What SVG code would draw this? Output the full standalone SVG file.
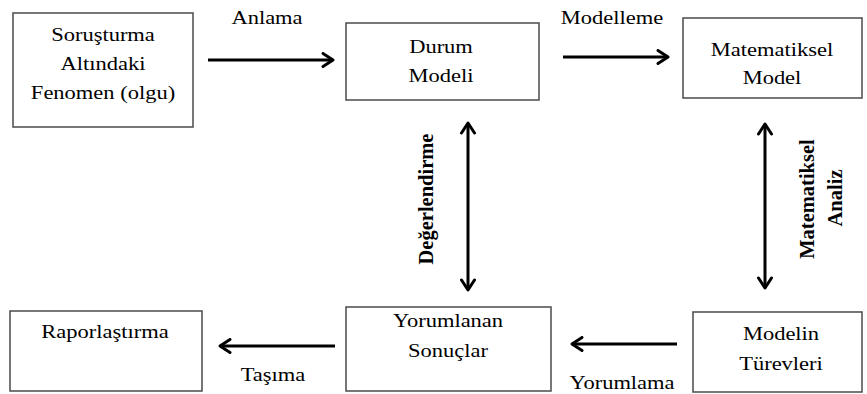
<svg xmlns="http://www.w3.org/2000/svg" width="867" height="394" viewBox="0 0 867 394" font-family="Liberation Serif">
<style>
.box{fill:#fff;stroke:#555;stroke-width:1.6}
.t{font-size:18px;fill:#000;text-anchor:middle}
.v{font-size:20.5px;font-weight:bold;fill:#000;text-anchor:middle}
.ar{stroke:#000;stroke-width:3;fill:none}
</style>
<defs>
<marker id="ah" viewBox="0 0 14 16" refX="12" refY="8" markerWidth="14" markerHeight="16" markerUnits="userSpaceOnUse" orient="auto-start-reverse">
<path d="M2,1.5 L12,8 L2,14.5" fill="none" stroke="#000" stroke-width="3" stroke-linecap="round" stroke-linejoin="round"/>
</marker>
</defs>
<rect width="867" height="394" fill="#fff"/>
<g id="n1"><rect class="box" x="13" y="13" width="180" height="114"/>
<text class="t" font-family="Liberation Serif" transform="translate(103,41) scale(1.25,1)">Soruşturma</text>
<text class="t" font-family="Liberation Serif" transform="translate(103,70) scale(1.25,1)">Altındaki</text>
<text class="t" font-family="Liberation Serif" transform="translate(103,99) scale(1.25,1)">Fenomen (olgu)</text></g>
<g id="n2"><rect class="box" x="346" y="23" width="193" height="77"/>
<text class="t" font-family="Liberation Serif" transform="translate(441,53) scale(1.25,1)">Durum</text>
<text class="t" font-family="Liberation Serif" transform="translate(441,82) scale(1.25,1)">Modeli</text></g>
<g id="n3"><rect class="box" x="683" y="18" width="179" height="80"/>
<text class="t" font-family="Liberation Serif" transform="translate(772,56) scale(1.25,1)">Matematiksel</text>
<text class="t" font-family="Liberation Serif" transform="translate(772,84) scale(1.25,1)">Model</text></g>
<g id="n4"><rect class="box" x="10" y="311" width="192" height="80"/>
<text class="t" font-family="Liberation Serif" transform="translate(105,338) scale(1.25,1)">Raporlaştırma</text></g>
<g id="n5"><rect class="box" x="346" y="307" width="205" height="84"/>
<text class="t" font-family="Liberation Serif" transform="translate(448,327) scale(1.25,1)">Yorumlanan</text>
<text class="t" font-family="Liberation Serif" transform="translate(448,357) scale(1.25,1)">Sonuçlar</text></g>
<g id="n6"><rect class="box" x="693" y="312" width="169" height="80"/>
<text class="t" font-family="Liberation Serif" transform="translate(781,340) scale(1.25,1)">Modelin</text>
<text class="t" font-family="Liberation Serif" transform="translate(781,370) scale(1.25,1)">Türevleri</text></g>
<g id="connectors">
<line class="ar" x1="208" y1="60" x2="333" y2="60" marker-end="url(#ah)"/>
<line class="ar" x1="563" y1="57" x2="668" y2="57" marker-end="url(#ah)"/>
<line class="ar" x1="468" y1="123" x2="468" y2="290" marker-start="url(#ah)" marker-end="url(#ah)"/>
<line class="ar" x1="765" y1="124" x2="765" y2="288" marker-start="url(#ah)" marker-end="url(#ah)"/>
<line class="ar" x1="677" y1="344" x2="572" y2="344" marker-end="url(#ah)"/>
<line class="ar" x1="335" y1="346" x2="220" y2="346" marker-end="url(#ah)"/>
<text class="t" font-family="Liberation Serif" transform="translate(267,24) scale(1.25,1)">Anlama</text>
<text class="t" font-family="Liberation Serif" transform="translate(612,24) scale(1.25,1)">Modelleme</text>
<text class="t" font-family="Liberation Serif" transform="translate(273,381) scale(1.25,1)">Taşıma</text>
<text class="t" font-family="Liberation Serif" transform="translate(622,389) scale(1.25,1)">Yorumlama</text>
<text class="v" font-family="Liberation Serif" transform="translate(433,199) rotate(-90)">Değerlendirme</text>
<text class="v" font-family="Liberation Serif" transform="translate(814,199) rotate(-90)">Matematiksel</text>
<text class="v" font-family="Liberation Serif" transform="translate(842,198) rotate(-90)">Analiz</text>
</g>
</svg>
